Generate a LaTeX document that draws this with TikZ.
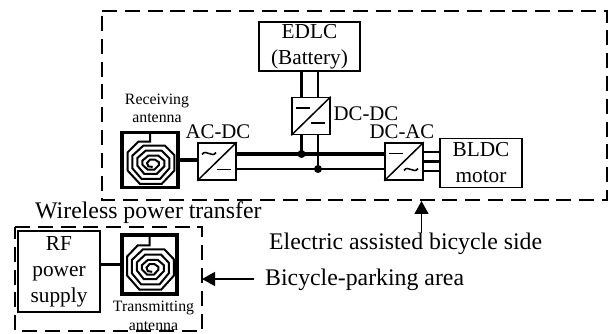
\documentclass[tikz,border=0pt]{standalone}
\usepackage{fontspec}
\setmainfont{Liberation Serif}
\usetikzlibrary{arrows.meta}
\tikzset{
    box/.style={draw, line width=1.5pt, inner sep=0pt, align=center, font=\fontsize{21.3}{26}\selectfont},
    conv/.style={draw, line width=1.5pt, minimum width=38pt, minimum height=37pt, inner sep=0pt},
    ant/.style={draw, line width=3.2pt, inner sep=0pt},
    area/.style={line width=2pt, dash pattern=on 15pt off 7.8pt},
    bus/.style={line width=3.2pt},
    wire/.style={line width=2.6pt},
    convline/.style={line width=1.5pt},
    lbl/.style={inner sep=0pt, font=\fontsize{20.8}{22}\selectfont},
    biglbl/.style={inner sep=0pt, font=\fontsize{23.8}{26}\selectfont},
    smalllbl/.style={inner sep=0pt, align=center, font=\fontsize{15.8}{18.5}\selectfont},
    junction/.style={circle, fill=black, inner sep=0pt, minimum size=8pt},
    pointer/.style={-{Triangle[length=13pt,width=14pt]}, line width=1.2pt},
    spiral/.pic={
        \draw[line width=2pt, scale=0.333, shift={(-105,-103)}] (105,22) -- (105,48) -- (70,48) -- (38,80) -- (38,135) -- (75,175) -- (140,175) -- (178,135) -- (178,88) -- (150,60) -- (85,60) -- (52,90) -- (52,128) -- (80,160) -- (135,160) -- (163,128) -- (163,98) -- (140,75) -- (92,75) -- (67,97) -- (67,120) -- (88,145) -- (125,145) -- (148,122) -- (148,105) -- (130,90) -- (100,90) -- (82,105) -- (82,117) -- (98,132) -- (118,132) -- (132,118) -- (132,110) -- (120,102) -- (105,102) -- (96,112) -- (100,122) -- (113,124);
    }
}
\newcommand{\dcmark}[3]{\draw[convline] ([shift={(#2-7,#3)}]#1.center) -- ([shift={(#2+7,#3)}]#1.center);}
\newcommand{\acmark}[3]{\draw[convline] ([shift={(#2-7,#3+1)}]#1.center) .. controls ([shift={(#2-3,#3-5)}]#1.center) and ([shift={(#2+3,#3+5)}]#1.center) .. ([shift={(#2+7,#3-1)}]#1.center);}

\begin{document}
\begin{tikzpicture}[x=1pt, y=-1pt]
    \useasboundingbox (0,0) rectangle (614,334);

    % blocks
    \node[box, minimum width=101pt, minimum height=49pt] (edlc) at (309.5,46.5) {EDLC\\(Battery)};
    \node[box, minimum width=82pt, minimum height=49pt] (bldc) at (481,163) {BLDC\\motor};
    \node[box, minimum width=82pt, minimum height=81pt] (rf) at (59,271.5) {RF\\power\\supply};
    \node[conv] (dcdc) at (311,116) {};
    \node[conv] (acdc) at (217,161.5) {};
    \node[conv] (dcac) at (404,161.5) {};
    \node[ant, minimum width=56pt, minimum height=55pt] (rxant) at (150,160) {};
    \node[ant, minimum width=55pt, minimum height=59pt] (txant) at (149.5,264.5) {};
    \pic at (rxant) {spiral};
    \pic[yscale=1.05] at (txant) {spiral};

    % converter marks
    \draw[convline] (dcdc.south west) -- (dcdc.north east);
    \draw[convline] (acdc.south west) -- (acdc.north east);
    \draw[convline] (dcac.south west) -- (dcac.north east);
    \dcmark{dcdc}{-8}{-8}
    \dcmark{dcdc}{7}{7}
    \acmark{acdc}{-8}{-8}
    \dcmark{acdc}{7}{8}
    \dcmark{dcac}{-8}{-8}
    \acmark{dcac}{7}{8}

    % buses
    \coordinate (jtop) at (301.5,154);
    \coordinate (jbot) at (318,169);
    \draw[bus] (acdc.east |- jtop) -- (dcac.west |- jtop);
    \draw[wire] (acdc.east |- jbot) -- (dcac.west |- jbot);
    \draw[bus] (edlc.south -| jtop) -- (dcdc.north -| jtop);
    \draw[wire] (edlc.south -| jbot) -- (dcdc.north -| jbot);
    \draw[bus] (dcdc.south -| jtop) -- (jtop);
    \draw[wire] (dcdc.south -| jbot) -- (jbot);
    \node[junction] (jtopdot) at (jtop) {};
    \node[junction] (jbotdot) at (jbot) {};
    \draw[bus] (rxant.east) -- (rxant.east -| acdc.west);
    \draw[bus] (rf.east |- txant.east) -- (txant.west);

    % motor phases
    \coordinate (phasea) at (440,152);
    \coordinate (phaseb) at (440,161.7);
    \coordinate (phasec) at (440,171);
    \draw[wire] (dcac.east |- phasea) -- (phasea);
    \draw[wire] (dcac.east |- phaseb) -- (phaseb);
    \draw[wire] (dcac.east |- phasec) -- (phasec);

    % dashed areas
    \draw[area] (102,11) -- (607,11) -- (607,200) -- (102,200) -- cycle;
    \draw[area] (15,227) -- (202,227) -- (202,331) -- (15,331) -- cycle;

    % labels
    \node[lbl] (acdclbl) at (218,132) {AC-DC};
    \node[lbl] (dcdclbl) at (366,114) {DC-DC};
    \node[lbl] (dcaclbl) at (402,132) {DC-AC};
    \node[smalllbl] (rxlbl) at (157,108.5) {Receiving\\antenna};
    \node[smalllbl] (txlbl) at (153.5,316) {Transmitting\\antenna};
    \node[biglbl, anchor=west] (wptlbl) at (35,213) {Wireless power transfer};
    \node[biglbl, anchor=west] (bikelbl) at (269,244) {Electric assisted bicycle side};
    \node[biglbl, anchor=west] (parklbl) at (265,280) {Bicycle-parking area};

    % pointers
    \draw[pointer] (421.5,233) -- (421.5,201);
    \draw[pointer] (254,279) -- (202,279);
\end{tikzpicture}
\end{document}
